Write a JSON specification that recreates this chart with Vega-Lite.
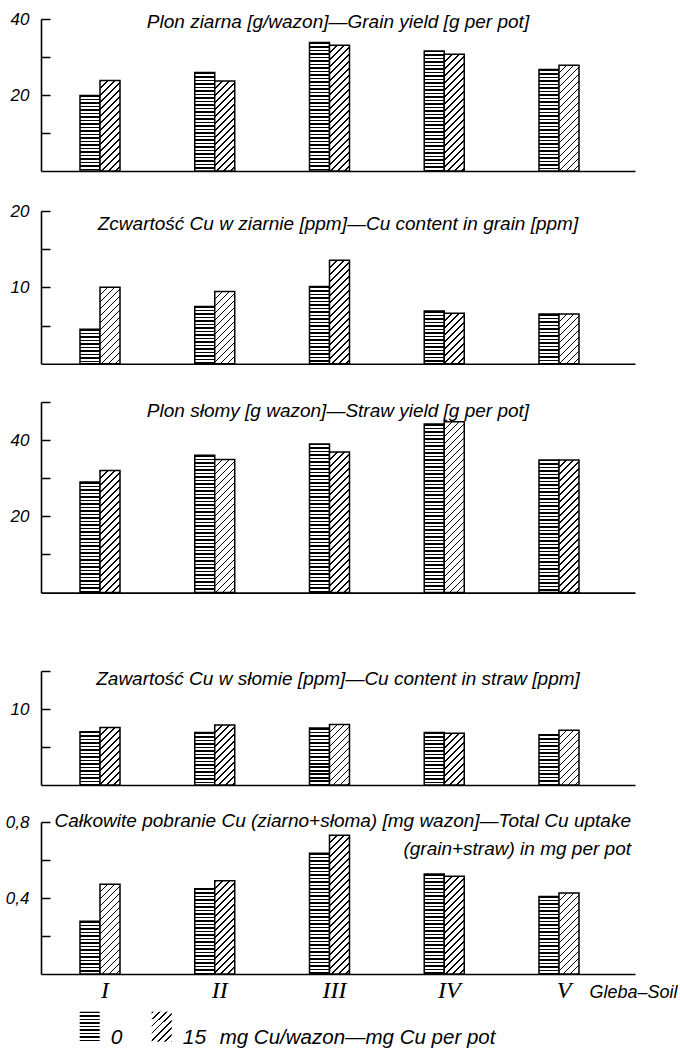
{
"$schema": "https://vega.github.io/schema/vega-lite/v6.json",
"padding": {"left": 5, "top": 10, "right": 0, "bottom": 0},
"background": "white",
"bounds": "flush",
"spacing": 0,
"params": [
{"name": "hst", "value": [
{"offset":0,"color":"#000"},{"offset":0.0086,"color":"#000"},{"offset":0.0086,"color":"#fff"},{"offset":0.02,"color":"#fff"},
{"offset":0.02,"color":"#000"},{"offset":0.0286,"color":"#000"},{"offset":0.0286,"color":"#fff"},{"offset":0.04,"color":"#fff"},
{"offset":0.04,"color":"#000"},{"offset":0.0486,"color":"#000"},{"offset":0.0486,"color":"#fff"},{"offset":0.06,"color":"#fff"},
{"offset":0.06,"color":"#000"},{"offset":0.0686,"color":"#000"},{"offset":0.0686,"color":"#fff"},{"offset":0.08,"color":"#fff"},
{"offset":0.08,"color":"#000"},{"offset":0.0886,"color":"#000"},{"offset":0.0886,"color":"#fff"},{"offset":0.1,"color":"#fff"},
{"offset":0.1,"color":"#000"},{"offset":0.1086,"color":"#000"},{"offset":0.1086,"color":"#fff"},{"offset":0.12,"color":"#fff"},
{"offset":0.12,"color":"#000"},{"offset":0.1286,"color":"#000"},{"offset":0.1286,"color":"#fff"},{"offset":0.14,"color":"#fff"},
{"offset":0.14,"color":"#000"},{"offset":0.1486,"color":"#000"},{"offset":0.1486,"color":"#fff"},{"offset":0.16,"color":"#fff"},
{"offset":0.16,"color":"#000"},{"offset":0.1686,"color":"#000"},{"offset":0.1686,"color":"#fff"},{"offset":0.18,"color":"#fff"},
{"offset":0.18,"color":"#000"},{"offset":0.1886,"color":"#000"},{"offset":0.1886,"color":"#fff"},{"offset":0.2,"color":"#fff"},
{"offset":0.2,"color":"#000"},{"offset":0.2086,"color":"#000"},{"offset":0.2086,"color":"#fff"},{"offset":0.22,"color":"#fff"},
{"offset":0.22,"color":"#000"},{"offset":0.2286,"color":"#000"},{"offset":0.2286,"color":"#fff"},{"offset":0.24,"color":"#fff"},
{"offset":0.24,"color":"#000"},{"offset":0.2486,"color":"#000"},{"offset":0.2486,"color":"#fff"},{"offset":0.26,"color":"#fff"},
{"offset":0.26,"color":"#000"},{"offset":0.2686,"color":"#000"},{"offset":0.2686,"color":"#fff"},{"offset":0.28,"color":"#fff"},
{"offset":0.28,"color":"#000"},{"offset":0.2886,"color":"#000"},{"offset":0.2886,"color":"#fff"},{"offset":0.3,"color":"#fff"},
{"offset":0.3,"color":"#000"},{"offset":0.3086,"color":"#000"},{"offset":0.3086,"color":"#fff"},{"offset":0.32,"color":"#fff"},
{"offset":0.32,"color":"#000"},{"offset":0.3286,"color":"#000"},{"offset":0.3286,"color":"#fff"},{"offset":0.34,"color":"#fff"},
{"offset":0.34,"color":"#000"},{"offset":0.3486,"color":"#000"},{"offset":0.3486,"color":"#fff"},{"offset":0.36,"color":"#fff"},
{"offset":0.36,"color":"#000"},{"offset":0.3686,"color":"#000"},{"offset":0.3686,"color":"#fff"},{"offset":0.38,"color":"#fff"},
{"offset":0.38,"color":"#000"},{"offset":0.3886,"color":"#000"},{"offset":0.3886,"color":"#fff"},{"offset":0.4,"color":"#fff"},
{"offset":0.4,"color":"#000"},{"offset":0.4086,"color":"#000"},{"offset":0.4086,"color":"#fff"},{"offset":0.42,"color":"#fff"},
{"offset":0.42,"color":"#000"},{"offset":0.4286,"color":"#000"},{"offset":0.4286,"color":"#fff"},{"offset":0.44,"color":"#fff"},
{"offset":0.44,"color":"#000"},{"offset":0.4486,"color":"#000"},{"offset":0.4486,"color":"#fff"},{"offset":0.46,"color":"#fff"},
{"offset":0.46,"color":"#000"},{"offset":0.4686,"color":"#000"},{"offset":0.4686,"color":"#fff"},{"offset":0.48,"color":"#fff"},
{"offset":0.48,"color":"#000"},{"offset":0.4886,"color":"#000"},{"offset":0.4886,"color":"#fff"},{"offset":0.5,"color":"#fff"},
{"offset":0.5,"color":"#000"},{"offset":0.5086,"color":"#000"},{"offset":0.5086,"color":"#fff"},{"offset":0.52,"color":"#fff"},
{"offset":0.52,"color":"#000"},{"offset":0.5286,"color":"#000"},{"offset":0.5286,"color":"#fff"},{"offset":0.54,"color":"#fff"},
{"offset":0.54,"color":"#000"},{"offset":0.5486,"color":"#000"},{"offset":0.5486,"color":"#fff"},{"offset":0.56,"color":"#fff"},
{"offset":0.56,"color":"#000"},{"offset":0.5686,"color":"#000"},{"offset":0.5686,"color":"#fff"},{"offset":0.58,"color":"#fff"},
{"offset":0.58,"color":"#000"},{"offset":0.5886,"color":"#000"},{"offset":0.5886,"color":"#fff"},{"offset":0.6,"color":"#fff"},
{"offset":0.6,"color":"#000"},{"offset":0.6086,"color":"#000"},{"offset":0.6086,"color":"#fff"},{"offset":0.62,"color":"#fff"},
{"offset":0.62,"color":"#000"},{"offset":0.6286,"color":"#000"},{"offset":0.6286,"color":"#fff"},{"offset":0.64,"color":"#fff"},
{"offset":0.64,"color":"#000"},{"offset":0.6486,"color":"#000"},{"offset":0.6486,"color":"#fff"},{"offset":0.66,"color":"#fff"},
{"offset":0.66,"color":"#000"},{"offset":0.6686,"color":"#000"},{"offset":0.6686,"color":"#fff"},{"offset":0.68,"color":"#fff"},
{"offset":0.68,"color":"#000"},{"offset":0.6886,"color":"#000"},{"offset":0.6886,"color":"#fff"},{"offset":0.7,"color":"#fff"},
{"offset":0.7,"color":"#000"},{"offset":0.7086,"color":"#000"},{"offset":0.7086,"color":"#fff"},{"offset":0.72,"color":"#fff"},
{"offset":0.72,"color":"#000"},{"offset":0.7286,"color":"#000"},{"offset":0.7286,"color":"#fff"},{"offset":0.74,"color":"#fff"},
{"offset":0.74,"color":"#000"},{"offset":0.7486,"color":"#000"},{"offset":0.7486,"color":"#fff"},{"offset":0.76,"color":"#fff"},
{"offset":0.76,"color":"#000"},{"offset":0.7686,"color":"#000"},{"offset":0.7686,"color":"#fff"},{"offset":0.78,"color":"#fff"},
{"offset":0.78,"color":"#000"},{"offset":0.7886,"color":"#000"},{"offset":0.7886,"color":"#fff"},{"offset":0.8,"color":"#fff"},
{"offset":0.8,"color":"#000"},{"offset":0.8086,"color":"#000"},{"offset":0.8086,"color":"#fff"},{"offset":0.82,"color":"#fff"},
{"offset":0.82,"color":"#000"},{"offset":0.8286,"color":"#000"},{"offset":0.8286,"color":"#fff"},{"offset":0.84,"color":"#fff"},
{"offset":0.84,"color":"#000"},{"offset":0.8486,"color":"#000"},{"offset":0.8486,"color":"#fff"},{"offset":0.86,"color":"#fff"},
{"offset":0.86,"color":"#000"},{"offset":0.8686,"color":"#000"},{"offset":0.8686,"color":"#fff"},{"offset":0.88,"color":"#fff"},
{"offset":0.88,"color":"#000"},{"offset":0.8886,"color":"#000"},{"offset":0.8886,"color":"#fff"},{"offset":0.9,"color":"#fff"},
{"offset":0.9,"color":"#000"},{"offset":0.9086,"color":"#000"},{"offset":0.9086,"color":"#fff"},{"offset":0.92,"color":"#fff"},
{"offset":0.92,"color":"#000"},{"offset":0.9286,"color":"#000"},{"offset":0.9286,"color":"#fff"},{"offset":0.94,"color":"#fff"},
{"offset":0.94,"color":"#000"},{"offset":0.9486,"color":"#000"},{"offset":0.9486,"color":"#fff"},{"offset":0.96,"color":"#fff"},
{"offset":0.96,"color":"#000"},{"offset":0.9686,"color":"#000"},{"offset":0.9686,"color":"#fff"},{"offset":0.98,"color":"#fff"},
{"offset":0.98,"color":"#000"},{"offset":0.9886,"color":"#000"},{"offset":0.9886,"color":"#fff"},{"offset":1,"color":"#fff"}
]},
{"name": "dst", "value": [
{"offset":0,"color":"#000"},{"offset":0.0082,"color":"#000"},{"offset":0.0082,"color":"#fff"},{"offset":0.0357,"color":"#fff"},
{"offset":0.0357,"color":"#000"},{"offset":0.0439,"color":"#000"},{"offset":0.0439,"color":"#fff"},{"offset":0.0714,"color":"#fff"},
{"offset":0.0714,"color":"#000"},{"offset":0.0796,"color":"#000"},{"offset":0.0796,"color":"#fff"},{"offset":0.1071,"color":"#fff"},
{"offset":0.1071,"color":"#000"},{"offset":0.1153,"color":"#000"},{"offset":0.1153,"color":"#fff"},{"offset":0.1429,"color":"#fff"},
{"offset":0.1429,"color":"#000"},{"offset":0.1511,"color":"#000"},{"offset":0.1511,"color":"#fff"},{"offset":0.1786,"color":"#fff"},
{"offset":0.1786,"color":"#000"},{"offset":0.1868,"color":"#000"},{"offset":0.1868,"color":"#fff"},{"offset":0.2143,"color":"#fff"},
{"offset":0.2143,"color":"#000"},{"offset":0.2225,"color":"#000"},{"offset":0.2225,"color":"#fff"},{"offset":0.25,"color":"#fff"},
{"offset":0.25,"color":"#000"},{"offset":0.2582,"color":"#000"},{"offset":0.2582,"color":"#fff"},{"offset":0.2857,"color":"#fff"},
{"offset":0.2857,"color":"#000"},{"offset":0.2939,"color":"#000"},{"offset":0.2939,"color":"#fff"},{"offset":0.3214,"color":"#fff"},
{"offset":0.3214,"color":"#000"},{"offset":0.3296,"color":"#000"},{"offset":0.3296,"color":"#fff"},{"offset":0.3571,"color":"#fff"},
{"offset":0.3571,"color":"#000"},{"offset":0.3653,"color":"#000"},{"offset":0.3653,"color":"#fff"},{"offset":0.3929,"color":"#fff"},
{"offset":0.3929,"color":"#000"},{"offset":0.4011,"color":"#000"},{"offset":0.4011,"color":"#fff"},{"offset":0.4286,"color":"#fff"},
{"offset":0.4286,"color":"#000"},{"offset":0.4368,"color":"#000"},{"offset":0.4368,"color":"#fff"},{"offset":0.4643,"color":"#fff"},
{"offset":0.4643,"color":"#000"},{"offset":0.4725,"color":"#000"},{"offset":0.4725,"color":"#fff"},{"offset":0.5,"color":"#fff"},
{"offset":0.5,"color":"#000"},{"offset":0.5082,"color":"#000"},{"offset":0.5082,"color":"#fff"},{"offset":0.5357,"color":"#fff"},
{"offset":0.5357,"color":"#000"},{"offset":0.5439,"color":"#000"},{"offset":0.5439,"color":"#fff"},{"offset":0.5714,"color":"#fff"},
{"offset":0.5714,"color":"#000"},{"offset":0.5796,"color":"#000"},{"offset":0.5796,"color":"#fff"},{"offset":0.6071,"color":"#fff"},
{"offset":0.6071,"color":"#000"},{"offset":0.6153,"color":"#000"},{"offset":0.6153,"color":"#fff"},{"offset":0.6429,"color":"#fff"},
{"offset":0.6429,"color":"#000"},{"offset":0.6511,"color":"#000"},{"offset":0.6511,"color":"#fff"},{"offset":0.6786,"color":"#fff"},
{"offset":0.6786,"color":"#000"},{"offset":0.6868,"color":"#000"},{"offset":0.6868,"color":"#fff"},{"offset":0.7143,"color":"#fff"},
{"offset":0.7143,"color":"#000"},{"offset":0.7225,"color":"#000"},{"offset":0.7225,"color":"#fff"},{"offset":0.75,"color":"#fff"},
{"offset":0.75,"color":"#000"},{"offset":0.7582,"color":"#000"},{"offset":0.7582,"color":"#fff"},{"offset":0.7857,"color":"#fff"},
{"offset":0.7857,"color":"#000"},{"offset":0.7939,"color":"#000"},{"offset":0.7939,"color":"#fff"},{"offset":0.8214,"color":"#fff"},
{"offset":0.8214,"color":"#000"},{"offset":0.8296,"color":"#000"},{"offset":0.8296,"color":"#fff"},{"offset":0.8571,"color":"#fff"},
{"offset":0.8571,"color":"#000"},{"offset":0.8653,"color":"#000"},{"offset":0.8653,"color":"#fff"},{"offset":0.8929,"color":"#fff"},
{"offset":0.8929,"color":"#000"},{"offset":0.9011,"color":"#000"},{"offset":0.9011,"color":"#fff"},{"offset":0.9286,"color":"#fff"},
{"offset":0.9286,"color":"#000"},{"offset":0.9368,"color":"#000"},{"offset":0.9368,"color":"#fff"},{"offset":0.9643,"color":"#fff"},
{"offset":0.9643,"color":"#000"},{"offset":0.9725,"color":"#000"},{"offset":0.9725,"color":"#fff"},{"offset":1,"color":"#fff"}
]}
],
"data": {"values": [
{"soil":"I","dose":"0","grain":19.9,"cuGrain":4.5,"straw":29.0,"cuStraw":7.0,"total":0.277},
{"soil":"I","dose":"15","grain":23.8,"cuGrain":10.0,"straw":32.0,"cuStraw":7.55,"total":0.472},
{"soil":"II","dose":"0","grain":25.9,"cuGrain":7.5,"straw":36.0,"cuStraw":6.9,"total":0.449},
{"soil":"II","dose":"15","grain":23.7,"cuGrain":9.45,"straw":34.9,"cuStraw":7.9,"total":0.491},
{"soil":"III","dose":"0","grain":33.8,"cuGrain":10.1,"straw":39.0,"cuStraw":7.5,"total":0.635},
{"soil":"III","dose":"15","grain":33.1,"cuGrain":13.55,"straw":36.9,"cuStraw":7.95,"total":0.73},
{"soil":"IV","dose":"0","grain":31.6,"cuGrain":6.9,"straw":44.2,"cuStraw":6.9,"total":0.526},
{"soil":"IV","dose":"15","grain":30.7,"cuGrain":6.6,"straw":44.8,"cuStraw":6.8,"total":0.514},
{"soil":"V","dose":"0","grain":26.7,"cuGrain":6.5,"straw":34.8,"cuStraw":6.6,"total":0.408},
{"soil":"V","dose":"15","grain":27.8,"cuGrain":6.5,"straw":34.8,"cuStraw":7.2,"total":0.426}
]},
"vconcat": [
{
 "name": "p1", "width": 594, "height": 152,
 "title": {"text": "Plon ziarna [g/wazon]—Grain yield [g per pot]", "dy": 25.5},
 "mark": {"type": "bar", "stroke": "#000", "strokeWidth": 1.5,
  "fill": {"expr": "datum.dose == '0' ? {gradient: 'linear', x1: 0, y1: 0, x2: 0, y2: 175 / max(1, scale('p1_y', 0) - scale('p1_y', datum.grain)), stops: hst} : {gradient: 'linear', x1: 0, y1: 0, x2: 3920 / (400 + pow(max(1, scale('p1_y', 0) - scale('p1_y', datum.grain)), 2)), y2: 196 * max(1, scale('p1_y', 0) - scale('p1_y', datum.grain)) / (400 + pow(max(1, scale('p1_y', 0) - scale('p1_y', datum.grain)), 2)), stops: dst}"}},
 "encoding": {
  "x": {"field": "soil", "type": "nominal", "sort": ["I","II","III","IV","V"], "scale": {"paddingInner": 0.6514, "paddingOuter": 0.414, "align": 0.4105}, "axis": {"labels": false, "ticks": false, "title": null}},
  "xOffset": {"field": "dose", "type": "nominal", "sort": ["0","15"], "scale": {"paddingInner": 0, "paddingOuter": 0}},
  "y": {"field": "grain", "type": "quantitative", "scale": {"domain": [0, 40], "nice": false}, "axis": {"values": [10,20,30,40], "labelExpr": "datum.value % 20 == 0 ? datum.label : ''", "title": null}}
 }
},
{"width": 594, "height": 40, "data": {"values": []}, "mark": "rule", "encoding": {}},
{
 "name": "p2", "width": 594, "height": 152.7,
 "title": {"text": "Zcwartość Cu w ziarnie [ppm]—Cu content in grain [ppm]", "dy": 35.5},
 "mark": {"type": "bar", "stroke": "#000", "strokeWidth": 1.5,
  "fill": {"expr": "datum.dose == '0' ? {gradient: 'linear', x1: 0, y1: 0, x2: 0, y2: 175 / max(1, scale('p2_y', 0) - scale('p2_y', datum.cuGrain)), stops: hst} : {gradient: 'linear', x1: 0, y1: 0, x2: 3920 / (400 + pow(max(1, scale('p2_y', 0) - scale('p2_y', datum.cuGrain)), 2)), y2: 196 * max(1, scale('p2_y', 0) - scale('p2_y', datum.cuGrain)) / (400 + pow(max(1, scale('p2_y', 0) - scale('p2_y', datum.cuGrain)), 2)), stops: dst}"}},
 "encoding": {
  "x": {"field": "soil", "type": "nominal", "sort": ["I","II","III","IV","V"], "scale": {"paddingInner": 0.6514, "paddingOuter": 0.414, "align": 0.4105}, "axis": {"labels": false, "ticks": false, "title": null}},
  "xOffset": {"field": "dose", "type": "nominal", "sort": ["0","15"], "scale": {"paddingInner": 0, "paddingOuter": 0}},
  "y": {"field": "cuGrain", "type": "quantitative", "scale": {"domain": [0, 20], "nice": false}, "axis": {"values": [5,10,15,20], "labelExpr": "datum.value % 10 == 0 ? datum.label : ''", "title": null}}
 }
},
{"width": 594, "height": 37.7, "data": {"values": []}, "mark": "rule", "encoding": {}},
{
 "name": "p3", "width": 594, "height": 190.6,
 "title": {"text": "Plon słomy [g wazon]—Straw yield [g per pot]", "dy": 23.4},
 "mark": {"type": "bar", "stroke": "#000", "strokeWidth": 1.5,
  "fill": {"expr": "datum.dose == '0' ? {gradient: 'linear', x1: 0, y1: 0, x2: 0, y2: 175 / max(1, scale('p3_y', 0) - scale('p3_y', datum.straw)), stops: hst} : {gradient: 'linear', x1: 0, y1: 0, x2: 3920 / (400 + pow(max(1, scale('p3_y', 0) - scale('p3_y', datum.straw)), 2)), y2: 196 * max(1, scale('p3_y', 0) - scale('p3_y', datum.straw)) / (400 + pow(max(1, scale('p3_y', 0) - scale('p3_y', datum.straw)), 2)), stops: dst}"}},
 "encoding": {
  "x": {"field": "soil", "type": "nominal", "sort": ["I","II","III","IV","V"], "scale": {"paddingInner": 0.6514, "paddingOuter": 0.414, "align": 0.4105}, "axis": {"labels": false, "ticks": false, "title": null}},
  "xOffset": {"field": "dose", "type": "nominal", "sort": ["0","15"], "scale": {"paddingInner": 0, "paddingOuter": 0}},
  "y": {"field": "straw", "type": "quantitative", "scale": {"domain": [0, 50], "nice": false}, "axis": {"values": [10,20,30,40,50], "labelExpr": "datum.value == 20 || datum.value == 40 ? datum.label : ''", "title": null}}
 }
},
{"width": 594, "height": 77.4, "data": {"values": []}, "mark": "rule", "encoding": {}},
{
 "name": "p4", "width": 594, "height": 114,
 "title": {"text": "Zawartość Cu w słomie [ppm]—Cu content in straw [ppm]", "dy": 23.2},
 "mark": {"type": "bar", "stroke": "#000", "strokeWidth": 1.5,
  "fill": {"expr": "datum.dose == '0' ? {gradient: 'linear', x1: 0, y1: 0, x2: 0, y2: 175 / max(1, scale('p4_y', 0) - scale('p4_y', datum.cuStraw)), stops: hst} : {gradient: 'linear', x1: 0, y1: 0, x2: 3920 / (400 + pow(max(1, scale('p4_y', 0) - scale('p4_y', datum.cuStraw)), 2)), y2: 196 * max(1, scale('p4_y', 0) - scale('p4_y', datum.cuStraw)) / (400 + pow(max(1, scale('p4_y', 0) - scale('p4_y', datum.cuStraw)), 2)), stops: dst}"}},
 "encoding": {
  "x": {"field": "soil", "type": "nominal", "sort": ["I","II","III","IV","V"], "scale": {"paddingInner": 0.6514, "paddingOuter": 0.414, "align": 0.4105}, "axis": {"labels": false, "ticks": false, "title": null}},
  "xOffset": {"field": "dose", "type": "nominal", "sort": ["0","15"], "scale": {"paddingInner": 0, "paddingOuter": 0}},
  "y": {"field": "cuStraw", "type": "quantitative", "scale": {"domain": [0, 15], "nice": false}, "axis": {"values": [5,10,15], "labelExpr": "datum.value == 10 ? datum.label : ''", "title": null}}
 }
},
{"width": 594, "height": 36.6, "data": {"values": []}, "mark": "rule", "encoding": {}},
{
 "name": "p5", "width": 594, "height": 152,
 "title": {"text": ["Całkowite pobranie Cu (ziarno+słoma) [mg wazon]—Total Cu uptake", "(grain+straw) in mg per pot"], "anchor": "end", "align": "right", "dy": 50, "dx": -4, "lineHeight": 28},
 "mark": {"type": "bar", "stroke": "#000", "strokeWidth": 1.5,
  "fill": {"expr": "(isValid(datum.dose) ? datum.dose : datum.value) == '0' ? {gradient: 'linear', x1: 0, y1: 0, x2: 0, y2: 175 / (isValid(datum.total) ? max(1, scale('p5_y', 0) - scale('p5_y', datum.total)) : 30), stops: hst} : {gradient: 'linear', x1: 0, y1: 0, x2: 3920 / (400 + pow(isValid(datum.total) ? max(1, scale('p5_y', 0) - scale('p5_y', datum.total)) : 30, 2)), y2: 196 * (isValid(datum.total) ? max(1, scale('p5_y', 0) - scale('p5_y', datum.total)) : 30) / (400 + pow(isValid(datum.total) ? max(1, scale('p5_y', 0) - scale('p5_y', datum.total)) : 30, 2)), stops: dst}"}},
 "encoding": {
  "x": {"field": "soil", "type": "nominal", "sort": ["I","II","III","IV","V"], "scale": {"paddingInner": 0.6514, "paddingOuter": 0.414, "align": 0.4105},
   "axis": {"labels": true, "ticks": false, "labelAngle": 0, "labelFont": "Liberation Serif", "labelFontSize": 24, "labelFontStyle": "italic", "labelPadding": 4.5, "labelOffset": 5,
    "title": "Gleba–Soil", "titleX": 548, "titleY": 23.5, "titleAlign": "left", "titleAnchor": "start", "titleBaseline": "alphabetic", "titleFont": "Liberation Sans", "titleFontStyle": "italic", "titleFontWeight": "normal", "titleFontSize": 18, "titleColor": "#000"}},
  "xOffset": {"field": "dose", "type": "nominal", "sort": ["0","15"], "scale": {"paddingInner": 0, "paddingOuter": 0}},
  "y": {"field": "total", "type": "quantitative", "scale": {"domain": [0, 0.8], "nice": false}, "axis": {"values": [0.2,0.4,0.6,0.8], "labelExpr": "datum.value == 0.4 || datum.value == 0.8 ? replace(datum.label, '.', ',') : ''", "title": null}},
  "opacity": {"field": "dose", "type": "ordinal", "sort": ["0","15"], "scale": {"range": [1, 1]},
   "legend": {"orient": "none", "legendX": 32.7, "legendY": 991.7, "direction": "horizontal", "title": "mg Cu/wazon—mg Cu per pot", "titleOrient": "right", "titleAnchor": "end", "titlePadding": 14, "titleLimit": 500, "titleFontSize": 20.5, "titleFont": "Liberation Sans", "titleFontStyle": "italic", "titleFontWeight": "normal", "titleColor": "#000", "titleBaseline": "bottom",
    "labelFontSize": 21, "labelFont": "Liberation Sans", "labelFontStyle": "italic", "labelColor": "#000", "labelOffset": 5, "labelBaseline": "top", "columnPadding": 23, "symbolType": "M-0.667,-1H0.667V1H-0.667Z", "symbolSize": 900, "symbolStrokeColor": "#000", "symbolStrokeWidth": 1.5, "padding": 0}}
 }
}
],
"config": {
 "view": {"stroke": null},
 "concat": {"spacing": 0},
 "font": "Liberation Sans",
 "axis": {"domainColor": "#000", "domainWidth": 1.6, "tickColor": "#000", "tickWidth": 1.5, "labelColor": "#000", "grid": false, "labelFont": "Liberation Sans", "labelFontStyle": "italic", "labelFontSize": 17},
 "axisY": {"tickSize": -9, "labelPadding": 21},
 "axisX": {"ticks": false},
 "title": {"font": "Liberation Sans", "fontStyle": "italic", "fontSize": 19, "fontWeight": "normal", "color": "#000", "offset": 0, "baseline": "alphabetic", "frame": "group", "anchor": "middle"}
}
}
